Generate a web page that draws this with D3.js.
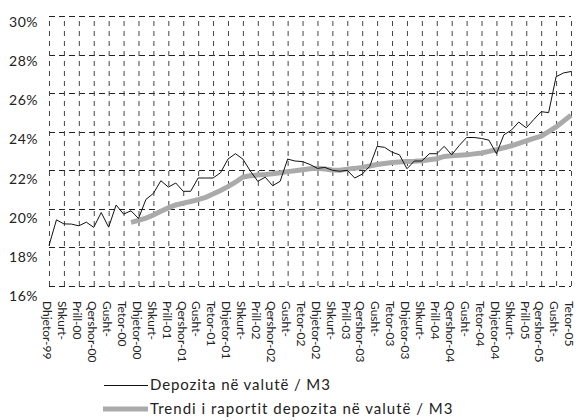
<!DOCTYPE html>
<html>
<head>
<meta charset="utf-8">
<script src="https://cdn.jsdelivr.net/npm/d3@7"></script>
<style>
body { margin: 0; background: #fff; }
text { font-family: Lato, "DejaVu Sans", sans-serif; fill: #222; }
</style>
</head>
<body>
<svg id="chart" width="576" height="420"></svg>
<script>

// muajt, dhjetor 1999 - tetor 2005
var muajt = ["Dhj-99",
	"Jan-00","Shk-00","Mar-00","Pri-00","Maj-00","Qer-00","Kor-00","Gus-00","Sht-00","Tet-00","Nen-00","Dhj-00",
	"Jan-01","Shk-01","Mar-01","Pri-01","Maj-01","Qer-01","Kor-01","Gus-01","Sht-01","Tet-01","Nen-01","Dhj-01",
	"Jan-02","Shk-02","Mar-02","Pri-02","Maj-02","Qer-02","Kor-02","Gus-02","Sht-02","Tet-02","Nen-02","Dhj-02",
	"Jan-03","Shk-03","Mar-03","Pri-03","Maj-03","Qer-03","Kor-03","Gus-03","Sht-03","Tet-03","Nen-03","Dhj-03",
	"Jan-04","Shk-04","Mar-04","Pri-04","Maj-04","Qer-04","Kor-04","Gus-04","Sht-04","Tet-04","Nen-04","Dhj-04",
	"Jan-05","Shk-05","Mar-05","Pri-05","Maj-05","Qer-05","Kor-05","Gus-05","Sht-05","Tet-05"];

// etiketat e boshtit x (cdo dy muaj)
var etiketat = ["Dhjetor-99","Shkurt-","Prill-00","Qershor-00","Gusht-","Tetor-00",
	"Dhjetor-00","Shkurt-","Prill-01","Qershor-01","Gusht-","Tetor-01",
	"Dhjetor-01","Shkurt-","Prill-02","Qershor-02","Gusht-","Tetor-02",
	"Dhjetor-02","Shkurt-","Prill-03","Qershor-03","Gusht-","Tetor-03",
	"Dhjetor-03","Shkurt-","Prill-04","Qershor-04","Gusht-","Tetor-04",
	"Dhjetor-04","Shkurt-","Prill-05","Qershor-05","Gusht-","Tetor-05"];

var yTicks = [16, 18, 20, 22, 24, 26, 28, 30];

// Depozita ne valute / M3 (%)
var depozita = [18.1,
	19.43,19.22,19.21,19.12,19.31,19.04,19.81,19.05,20.2,19.73,19.9,19.5,
	20.49,20.8,21.46,21.13,21.34,20.91,20.91,21.6,21.6,21.6,21.87,22.58,
	22.86,22.58,21.96,21.43,21.64,21.2,21.43,22.58,22.48,22.45,22.3,22.1,
	22.15,22.0,21.95,22.0,21.6,21.8,22.2,23.24,23.19,22.94,22.8,22.08,
	22.48,22.48,22.86,22.86,23.24,22.8,23.28,23.7,23.7,23.65,23.56,22.86,
	23.84,24.08,24.5,24.2,24.63,25.04,24.99,26.85,27.05,27.12];

// Trendi i raportit (fillon ne nentor 2000)
var trendi = [null,
	null,null,null,null,null,null,null,null,null,null,19.3,19.4,
	19.52,19.68,19.88,20.05,20.2,20.3,20.38,20.48,20.6,20.77,20.95,21.15,
	21.38,21.65,21.72,21.75,21.78,21.82,21.87,21.93,21.98,22.03,22.08,22.1,
	22.07,22.02,22.0,22.06,22.1,22.15,22.22,22.3,22.35,22.4,22.43,22.45,
	22.47,22.5,22.55,22.6,22.72,22.75,22.78,22.8,22.85,22.9,22.98,23.07,
	23.17,23.27,23.4,23.52,23.65,23.77,24.0,24.25,24.55,24.85];

var svg = d3.select('#chart');

var plotLeft = 49, plotRight = 571, plotTop = 16, plotBottom = 286;

var x = d3.scalePoint()
	.domain(muajt)
	.range([plotLeft, plotRight]);

var y = d3.scaleLinear()
	.domain([16, 30])
	.range([plotBottom, plotTop]);

// vijat horizontale
svg.append('g')
	.attr('class', 'hgrid')
	.selectAll('line')
	.data(yTicks)
	.enter()
	.append('line')
	.attr('x1', plotLeft)
	.attr('x2', plotRight)
	.attr('y1', function(d) { return Math.round(y(d)) + 0.5; })
	.attr('y2', function(d) { return Math.round(y(d)) + 0.5; })
	.attr('stroke', '#222')
	.attr('stroke-dasharray', '6,4');

// vijat vertikale + etiketat
var tickMuaj = muajt.filter(function(d, i) { return i % 2 == 0; });

var xAxis = d3.axisBottom(x)
	.tickValues(tickMuaj)
	.tickSize(-(plotBottom - plotTop))
	.tickPadding(0)
	.tickFormat(function(d, i) { return etiketat[i]; });

var gx = svg.append('g')
	.attr('class', 'xaxis')
	.attr('transform', 'translate(0,' + plotBottom + ')')
	.call(xAxis);

gx.select('.domain').remove();
gx.selectAll('.tick line')
	.attr('stroke', '#444')
	.attr('stroke-dasharray', '5,5');
gx.selectAll('.tick text')
	.attr('transform', 'rotate(90)')
	.attr('x', 15)
	.attr('y', 2)
	.attr('dy', '0.35em')
	.attr('text-anchor', 'start')
	.style('font-size', '12px')
	.style('font-family', 'Lato, sans-serif')
	.attr('fill', '#222');

// etiketat e boshtit y
svg.append('g')
	.attr('class', 'ylabels')
	.selectAll('text')
	.data(yTicks)
	.enter()
	.append('text')
	.attr('x', 38)
	.attr('y', function(d) { return y(d) + 6 + (30 - d) * 0.3; })
	.attr('dy', '0.35em')
	.attr('text-anchor', 'end')
	.style('font-size', '14px')
	.style('letter-spacing', '0.5px')
	.text(function(d) { return d + '%'; });

// trendi
var lineTrend = d3.line()
	.defined(function(d) { return d != null; })
	.x(function(d, i) { return x(muajt[i]); })
	.y(function(d) { return y(d); });

svg.append('path')
	.datum(trendi)
	.attr('d', lineTrend)
	.attr('fill', 'none')
	.attr('stroke', '#aaaaaa')
	.attr('stroke-width', 5);

// depozita
var lineDep = d3.line()
	.x(function(d, i) { return x(muajt[i]); })
	.y(function(d) { return y(d); });

svg.append('path')
	.datum(depozita)
	.attr('d', lineDep)
	.attr('fill', 'none')
	.attr('stroke', '#111')
	.attr('stroke-width', 1);

// legjenda
var legend = svg.append('g').attr('class', 'legend');

legend.append('line')
	.attr('x1', 104).attr('x2', 148)
	.attr('y1', 385.5).attr('y2', 385.5)
	.attr('stroke', '#111')
	.attr('stroke-width', 1);

legend.append('text')
	.attr('x', 150)
	.attr('y', 385)
	.attr('dy', '0.35em')
	.style('font-size', '15px')
	.style('letter-spacing', '0.9px')
	.text('Depozita në valutë / M3');

legend.append('line')
	.attr('x1', 103).attr('x2', 148)
	.attr('y1', 409).attr('y2', 409)
	.attr('stroke', '#aaaaaa')
	.attr('stroke-width', 5);

legend.append('text')
	.attr('x', 150)
	.attr('y', 409)
	.attr('dy', '0.35em')
	.style('font-size', '15px')
	.style('letter-spacing', '1px')
	.text('Trendi i raportit depozita në valutë / M3');

</script>
</body>
</html>
